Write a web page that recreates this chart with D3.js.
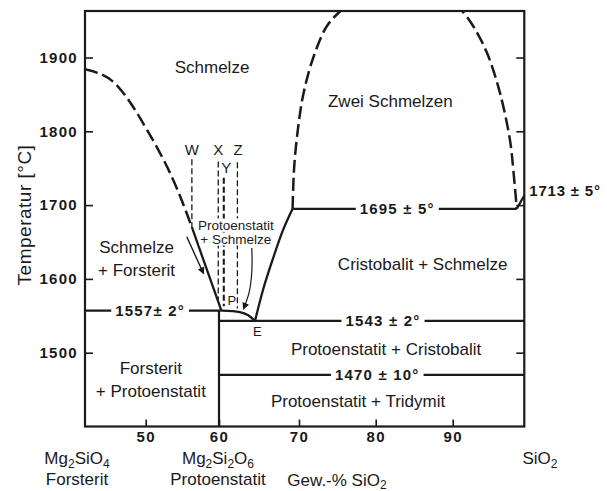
<!DOCTYPE html>
<html>
<head>
<meta charset="utf-8">
<script src="https://cdn.jsdelivr.net/npm/d3@7"></script>
<style>
  html, body { margin: 0; padding: 0; background: #fff; }
  svg { display: block; }
  text { font-family: "Liberation Sans", Arial, Helvetica, sans-serif; fill: #1a1a1a; }
</style>
</head>
<body>
<svg id="chart" width="607" height="491"></svg>
<script>
// System MgO–SiO2: compositions in Gew.-% SiO2, temperatures in °C

const xTicks = [50, 60, 70, 80, 90];
const yTicks = [1500, 1600, 1700, 1800, 1900];

// Liquidus of forsterite (uncertain upper part dashed)
const forsteriteLiquidusDashed = [[42.7, 1884], [44.5, 1878], [46.0, 1868], [47.3, 1852], [48.5, 1833],
  [50.0, 1805], [51.5, 1779], [53.3, 1744], [54.9, 1707], [56.3, 1670]];
const forsteriteLiquidusSolid = [[56.3, 1670], [60.3, 1557]];
// Liquidus of protoenstatite, peritectic P to eutectic E
const protoenstatiteLiquidus = [[60.3, 1557], [62.6, 1555], [63.6, 1551], [64.5, 1543]];
// Liquidus of cristobalite up to the monotectic
const cristobaliteLiquidus = [[64.5, 1543], [65.5, 1585], [66.7, 1626], [68.0, 1666], [69.2, 1695]];
// Two-liquid dome
const gapLeft = [[69.2, 1695], [69.4, 1752], [69.9, 1806], [70.6, 1852], [71.9, 1901], [73.6, 1942], [75.4, 1963], [76.4, 1972]];
const gapRight = [[90.3, 1972], [91.3, 1963], [92.9, 1942], [94.8, 1906], [96.6, 1852], [98.0, 1788], [98.5, 1744], [98.95, 1695]];
const silicaLiquidus = [[98.95, 1695], [100, 1713]];

// Invariant temperatures: [temperature, from, to, label]
const isotherms = [
  [1557, 42.7, 60.3, "1557± 2°"],
  [1543, 60, 100, "1543 ± 2°"],
  [1470, 60, 100, "1470 ± 10°"],
  [1695, 69.2, 98.95, "1695 ± 5°"]
];
const silicaMelting = [1713, "1713 ± 5°"];
// Protoenstatite composition line below the peritectic
const enstatiteLine = [[60, 1557], [60, 1400]];

// Cooling paths of melts W, X, Y, Z: [name, composition, start T, end T]
const coolingPaths = [
  ["W", 56.3, 1762, 1668],
  ["X", 59.9, 1759, 1572],
  ["Y", 60.6, 1737, 1563],
  ["Z", 62.3, 1758, 1560]
];
const wArrow = [[55.6, 1657], [57.9, 1607]];
const pointerArrow = [[64.1, 1642], [64.1, 1609], [63.75, 1581], [63.05, 1559]];

const svg = d3.select("#chart");

const x = d3.scaleLinear()
  .domain([42.7, 50, 60, 70, 80, 90, 100])
  .range([85, 145.7, 219, 299, 375.7, 452.7, 524.3]);
const y = d3.scaleLinear().domain([1400, 1963]).range([426.5, 11]);

const line = d3.line().x(d => x(d[0])).y(d => y(d[1]));
const smooth = d3.line().x(d => x(d[0])).y(d => y(d[1])).curve(d3.curveCatmullRom.alpha(0.5));

const ink = "#1a1a1a";

// arrowhead
const defs = svg.append("defs");
defs.append("marker")
  .attr("id", "arrow")
  .attr("viewBox", "0 0 10 10")
  .attr("refX", 9).attr("refY", 5)
  .attr("markerWidth", 9).attr("markerHeight", 7)
  .attr("markerUnits", "userSpaceOnUse")
  .attr("orient", "auto")
  .append("path").attr("d", "M0,0 L10,5 L0,10 z").attr("fill", ink);
defs.append("clipPath").attr("id", "plotClip")
  .append("rect").attr("x", x(42.7)).attr("y", y(1963)).attr("width", x(100) - x(42.7)).attr("height", y(1400) - y(1963));

const plot = svg.append("g").attr("clip-path", "url(#plotClip)");

// axes with inward ticks
const axisStyle = g => {
  g.select(".domain").remove();
  g.selectAll(".tick line").attr("stroke", ink).attr("stroke-width", 1.6);
  g.selectAll(".tick text").attr("fill", ink)
    .style("font-weight", "bold").style("font-size", "15px").style("letter-spacing", "1.3px")
    .style("font-family", "'Liberation Sans', Arial, sans-serif");
};
svg.append("g").attr("transform", `translate(${x(42.7)},0)`)
  .call(d3.axisLeft(y).tickValues(yTicks).tickSize(-8).tickPadding(7).tickFormat(d3.format("d")))
  .call(axisStyle);
svg.append("g").attr("transform", `translate(${x(100)},0)`)
  .call(d3.axisRight(y).tickValues(yTicks).tickSize(-8).tickFormat(""))
  .call(axisStyle);
svg.append("g").attr("transform", `translate(0,${y(1400)})`)
  .call(d3.axisBottom(x).tickValues(xTicks).tickSize(-7).tickPadding(5).tickFormat(d3.format("d")))
  .call(axisStyle);

// frame
svg.append("rect")
  .attr("x", x(42.7)).attr("y", y(1963))
  .attr("width", x(100) - x(42.7)).attr("height", y(1400) - y(1963))
  .attr("fill", "none").attr("stroke", ink).attr("stroke-width", 2.2);

// phase boundaries
const solid = (data, gen = line, w = 2.3) => plot.append("path").datum(data).attr("d", gen)
  .attr("fill", "none").attr("stroke", ink).attr("stroke-width", w).attr("stroke-linejoin", "round");
const dashed = (data, gen = smooth) => solid(data, gen, 2.5).attr("stroke-dasharray", "13 5");

dashed(forsteriteLiquidusDashed);
solid(forsteriteLiquidusSolid);
solid(protoenstatiteLiquidus, smooth);
solid(cristobaliteLiquidus, smooth);
dashed(gapLeft);
dashed(gapRight);
solid(silicaLiquidus);
solid(enstatiteLine, line, 2.2);

const boldLabel = sel => sel.style("font-weight", "bold").style("font-size", "15px").style("letter-spacing", "1.2px");

// isotherms with their labels set into a gap of the line
const isoLabelX = { 1557: 50.6, 1543: 80.95, 1470: 80.2, 1695: 82.8 };
isotherms.forEach(([t, a, b, label]) => {
  solid([[a, t], [b, t]], line, 2.3);
  const g = plot.append("g");
  const txt = g.append("text")
    .attr("x", x(isoLabelX[t])).attr("y", y(t))
    .attr("text-anchor", "middle").attr("dominant-baseline", "central")
    .call(boldLabel)
    .text(label);
  const bb = txt.node().getBBox();
  g.insert("rect", "text")
    .attr("x", bb.x - 4).attr("y", y(t) - 4).attr("width", bb.width + 8).attr("height", 8)
    .attr("fill", "#fff");
});
// melting point of SiO2, written beside the frame
svg.append("text")
  .attr("x", x(100) + 5).attr("y", y(silicaMelting[0]) - 5)
  .attr("dominant-baseline", "central")
  .style("font-weight", "bold").style("font-size", "15px").style("letter-spacing", "0.8px")
  .text(silicaMelting[1]);

// cooling paths of the example melts
coolingPaths.forEach(([name, c, t0, t1]) => {
  plot.append("line")
    .attr("x1", x(c)).attr("x2", x(c)).attr("y1", y(t0)).attr("y2", y(t1))
    .attr("stroke", ink)
    .attr("stroke-width", name === "Y" ? 2.1 : 1.3)
    .attr("stroke-dasharray", "6 3");
});
const pathLabels = { W: [56.3, 1775], X: [59.9, 1775], Y: [60.9, 1751], Z: [62.4, 1775] };
Object.entries(pathLabels).forEach(([name, [c, t]]) => {
  svg.append("text").attr("x", x(c)).attr("y", y(t))
    .attr("text-anchor", "middle").attr("dominant-baseline", "central")
    .style("font-size", "15px").text(name);
});

plot.append("path").datum(wArrow).attr("d", line)
  .attr("fill", "none").attr("stroke", ink).attr("stroke-width", 1.4)
  .attr("marker-end", "url(#arrow)");
plot.append("path").datum(pointerArrow).attr("d", smooth)
  .attr("fill", "none").attr("stroke", ink).attr("stroke-width", 1.2)
  .attr("marker-end", "url(#arrow)");

// field labels: [text, composition, temperature, size, white backing]
const fields = [
  ["Schmelze", 59.05, 1886, 17],
  ["Zwei Schmelzen", 81.9, 1841, 17],
  ["Schmelze", 48.9, 1642, 17],
  ["+ Forsterit", 48.9, 1612, 17],
  ["Cristobalit + Schmelze", 86.1, 1620, 17],
  ["Protoenstatit + Cristobalit", 81.35, 1504, 17],
  ["Protoenstatit + Tridymit", 77.7, 1434.5, 17],
  ["Forsterit", 50.7, 1479, 17],
  ["+ Protoenstatit", 50.7, 1448, 17],
  ["Protoenstatit", 62.1, 1673, 13.5, true],
  ["+ Schmelze", 62.1, 1654, 13.5, true],
  ["P", 61.6, 1571, 13],
  ["E", 64.8, 1529, 13]
];
fields.forEach(([label, c, t, size, backed]) => {
  const g = svg.append("g");
  const txt = g.append("text").attr("x", x(c)).attr("y", y(t))
    .attr("text-anchor", "middle").attr("dominant-baseline", "central")
    .style("font-size", size + "px").text(label);
  if (backed) {
    const bb = txt.node().getBBox();
    g.insert("rect", "text")
      .attr("x", bb.x - 1).attr("y", bb.y + 1).attr("width", bb.width + 2).attr("height", bb.height - 2)
      .attr("fill", "#fff");
  }
});

// component names under the axis
const components = [
  [77, [["Mg", 0], ["2", 1], ["SiO", 0], ["4", 1]], "Forsterit"],
  [218, [["Mg", 0], ["2", 1], ["Si", 0], ["2", 1], ["O", 0], ["6", 1]], "Protoenstatit"],
  [540, [["SiO", 0], ["2", 1]], null]
];
components.forEach(([px, formula, name]) => {
  const t = svg.append("text").attr("x", px).attr("y", 464)
    .attr("text-anchor", "middle").style("font-size", "17px");
  let prevLow = false;
  formula.forEach(([s, low]) => {
    const sp = t.append("tspan").text(s);
    if (low) { sp.attr("dy", 4).style("font-size", "12px"); }
    else if (prevLow) { sp.attr("dy", -4); }
    prevLow = !!low;
  });
  if (name) {
    svg.append("text").attr("x", px).attr("y", 485)
      .attr("text-anchor", "middle").style("font-size", "17px").text(name);
  }
});

// axis titles
const xt = svg.append("text").attr("x", 337).attr("y", 486)
  .attr("text-anchor", "middle").style("font-size", "17px");
xt.append("tspan").text("Gew.-% SiO");
xt.append("tspan").text("2").attr("dy", 3).style("font-size", "12px");

svg.append("text")
  .attr("transform", "translate(31,215) rotate(-90)")
  .attr("text-anchor", "middle")
  .style("font-size", "19px").style("letter-spacing", "0.5px")
  .text("Temperatur [°C]");
</script>
</body>
</html>
